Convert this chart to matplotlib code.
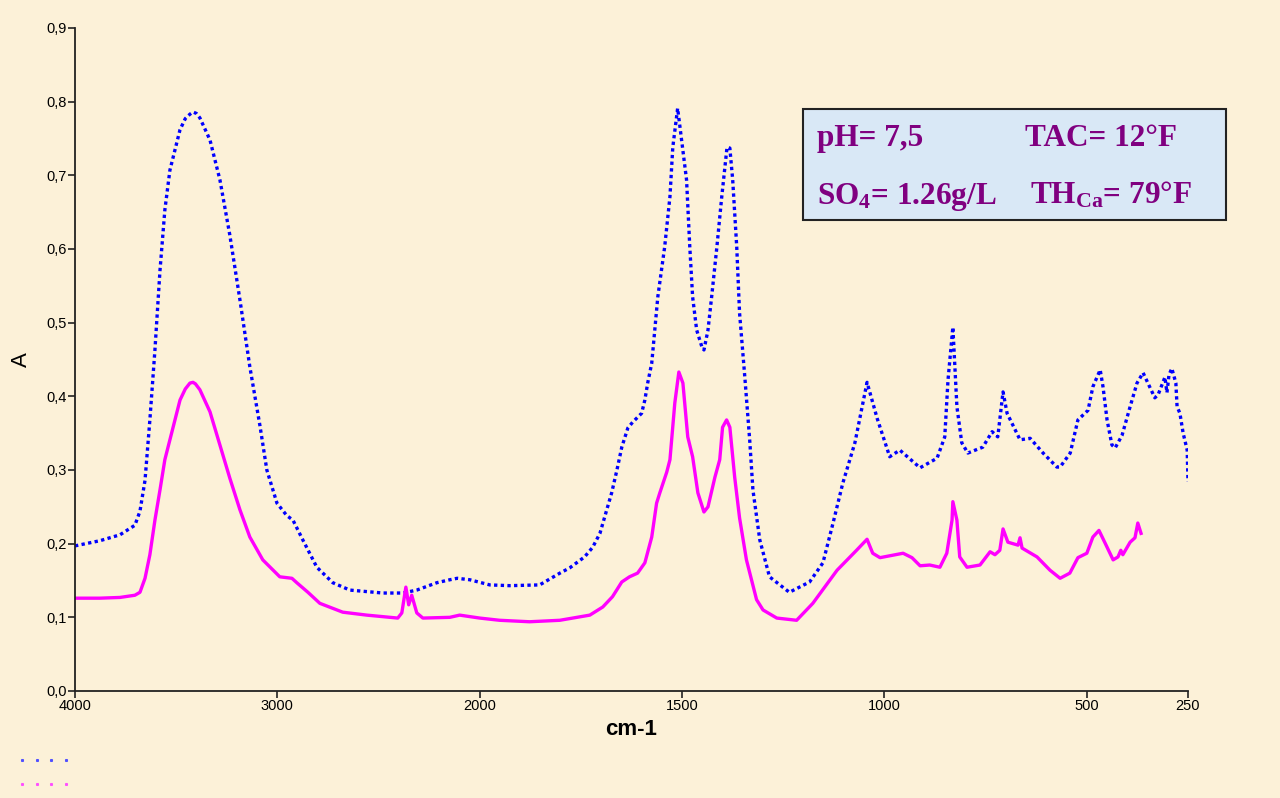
"""
IR absorbance spectrum of a scale deposit, two samples, with the
water analysis shown in a box. The wavenumber axis changes scale at
2000 cm-1 (half scale above 2000), like most FTIR print-outs.
"""

import numpy as np
import matplotlib.pyplot as plt
from matplotlib.lines import Line2D
from matplotlib.patches import Rectangle
import matplotlib.ticker as mticker

# ---------------------------------------------------------------------------
# Colours & style
# ---------------------------------------------------------------------------
PAPER_BG = "#fcf1d8"
BOX_BG = "#d9e8f6"
BLUE = "#0000ff"
MAGENTA = "#ff00ff"
PURPLE = "#800080"

plt.rcParams["font.family"] = ["Liberation Sans", "DejaVu Sans"]
plt.rcParams["mathtext.fontset"] = "custom"
plt.rcParams["mathtext.rm"] = "Liberation Serif:bold"
plt.rcParams["mathtext.it"] = "Liberation Serif:bold"
plt.rcParams["mathtext.bf"] = "Liberation Serif:bold"

# ---------------------------------------------------------------------------
# Data (wavenumber cm-1, absorbance)
# ---------------------------------------------------------------------------
blue_wn = [4000, 3877, 3778, 3704, 3679, 3654, 3630, 3605, 3580, 3556,
           3531, 3481, 3455, 3432, 3417, 3400, 3383, 3333, 3284, 3235,
           3185, 3136, 3086, 3052, 3002, 2953, 2923, 2874, 2805, 2726,
           2642, 2479, 2380, 2311, 2212, 2148, 2111, 2049, 1975, 1926,
           1852, 1802, 1778, 1741, 1721, 1703, 1686, 1674, 1661, 1649,
           1634, 1622, 1600, 1592, 1585, 1575, 1560, 1543, 1530, 1523,
           1511, 1489, 1481, 1474, 1464, 1451, 1446, 1436, 1427, 1414,
           1402, 1389, 1382, 1375, 1365, 1358, 1345, 1333, 1325, 1308,
           1284, 1235, 1185, 1152, 1127, 1103, 1073, 1043, 1018, 987,
           962, 912, 870, 851, 843, 831, 821, 809, 794, 757,
           734, 720, 707, 697, 665, 640, 608, 574, 566, 541,
           522, 497, 485, 467, 460, 450, 438, 430, 413, 393,
           376, 361, 349, 332, 324, 307, 302, 297, 290, 280,
           277, 270, 262, 252, 250]
blue_a = [0.197, 0.204, 0.212, 0.225, 0.244, 0.286, 0.368, 0.463, 0.571, 0.653,
          0.707, 0.762, 0.777, 0.783, 0.786, 0.784, 0.778, 0.748, 0.694, 0.619,
          0.531, 0.440, 0.360, 0.300, 0.255, 0.238, 0.232, 0.205, 0.168, 0.147,
          0.137, 0.133, 0.133, 0.137, 0.147, 0.151, 0.153, 0.151, 0.144, 0.143,
          0.144, 0.160, 0.167, 0.182, 0.195, 0.214, 0.246, 0.269, 0.300, 0.331,
          0.357, 0.365, 0.377, 0.395, 0.418, 0.445, 0.535, 0.603, 0.671, 0.738,
          0.791, 0.694, 0.603, 0.535, 0.490, 0.467, 0.463, 0.490, 0.535, 0.603,
          0.671, 0.738, 0.737, 0.694, 0.603, 0.513, 0.426, 0.341, 0.273, 0.205,
          0.155, 0.134, 0.148, 0.174, 0.228, 0.282, 0.337, 0.419, 0.370, 0.318,
          0.327, 0.303, 0.316, 0.345, 0.422, 0.494, 0.386, 0.337, 0.323, 0.331,
          0.352, 0.345, 0.406, 0.377, 0.341, 0.343, 0.323, 0.304, 0.304, 0.323,
          0.368, 0.381, 0.413, 0.436, 0.413, 0.368, 0.334, 0.330, 0.347, 0.386,
          0.418, 0.432, 0.418, 0.398, 0.402, 0.426, 0.405, 0.429, 0.438, 0.418,
          0.386, 0.377, 0.350, 0.327, 0.284]

magenta_wn = [4000, 3877, 3778, 3704, 3679, 3654, 3630, 3605, 3580, 3556,
              3531, 3481, 3455, 3432, 3417, 3405, 3383, 3333, 3284, 3235,
              3185, 3136, 3072, 2988, 2928, 2904, 2849, 2790, 2677, 2558,
              2405, 2385, 2365, 2351, 2336, 2311, 2281, 2148, 2099, 2000,
              1951, 1877, 1802, 1728, 1696, 1672, 1649, 1630, 1610, 1592,
              1575, 1563, 1555, 1538, 1530, 1518, 1508, 1498, 1486, 1474,
              1461, 1446, 1436, 1419, 1407, 1400, 1390, 1382, 1370, 1358,
              1341, 1316, 1300, 1266, 1217, 1177, 1117, 1069, 1043, 1029,
              1011, 954, 932, 912, 888, 863, 846, 833, 831, 821,
              814, 796, 764, 739, 727, 715, 707, 695, 670, 665,
              660, 623, 591, 566, 542, 522, 500, 485, 470, 455,
              435, 423, 416, 411, 393, 381, 374, 366]
magenta_a = [0.126, 0.126, 0.127, 0.130, 0.134, 0.153, 0.185, 0.232, 0.273, 0.314,
             0.341, 0.395, 0.410, 0.418, 0.419, 0.417, 0.409, 0.379, 0.334, 0.289,
             0.246, 0.209, 0.178, 0.155, 0.153, 0.147, 0.134, 0.119, 0.107, 0.103,
             0.099, 0.106, 0.141, 0.117, 0.130, 0.106, 0.099, 0.100, 0.103, 0.099,
             0.096, 0.094, 0.096, 0.103, 0.114, 0.128, 0.148, 0.155, 0.160, 0.174,
             0.209, 0.255, 0.269, 0.297, 0.314, 0.391, 0.433, 0.418, 0.345, 0.318,
             0.269, 0.243, 0.250, 0.290, 0.314, 0.358, 0.368, 0.358, 0.290, 0.235,
             0.178, 0.124, 0.110, 0.099, 0.096, 0.119, 0.164, 0.191, 0.206, 0.187,
             0.181, 0.187, 0.181, 0.170, 0.171, 0.168, 0.187, 0.232, 0.257, 0.232,
             0.182, 0.168, 0.171, 0.189, 0.185, 0.191, 0.220, 0.202, 0.198, 0.208,
             0.194, 0.182, 0.164, 0.153, 0.160, 0.181, 0.187, 0.209, 0.218, 0.201,
             0.178, 0.182, 0.191, 0.185, 0.202, 0.208, 0.228, 0.214]

x_ticks = [4000, 3000, 2000, 1500, 1000, 500, 250]
y_ticks = [0.0, 0.1, 0.2, 0.3, 0.4, 0.5, 0.6, 0.7, 0.8, 0.9]


def _fwd(x):
    x = np.asarray(x, dtype=float)
    return np.where(x > 2000, 2000 + (x - 2000) / 2, x)


def _inv(u):
    u = np.asarray(u, dtype=float)
    return np.where(u > 2000, 2000 + (u - 2000) * 2, u)


fig = plt.figure(figsize=(12.8, 7.98), dpi=100)
fig.patch.set_facecolor(PAPER_BG)
ax = fig.add_axes([75 / 1280, 1 - 691 / 798, (1188 - 75) / 1280, (691 - 28) / 798])
ax.set_facecolor("none")

ax.plot(blue_wn, blue_a, color=BLUE, linewidth=2.4, linestyle=(0, (1, 1)),
        dash_capstyle="butt")
ax.plot(magenta_wn, magenta_a, color=MAGENTA, linewidth=2.4)

ax.set_xscale("function", functions=(_fwd, _inv))
ax.set_xlim(4000, 250)
ax.set_ylim(0, 0.9)
ax.set_xticks(x_ticks)
ax.set_xticklabels([str(t) for t in x_ticks])
ax.xaxis.set_minor_locator(mticker.NullLocator())
ax.set_yticks(y_ticks)
ax.yaxis.set_major_formatter(mticker.FuncFormatter(lambda v, _: f"{v:.1f}".replace(".", ",")))

for side in ("top", "right"):
    ax.spines[side].set_visible(False)
for side in ("left", "bottom"):
    ax.spines[side].set_linewidth(1.3)
    ax.spines[side].set_color("#222222")
ax.tick_params(direction="out", length=5, width=1.2, labelsize=10.5, pad=1,
               colors="#222222", labelcolor="black")

ax.set_xlabel("cm-1", fontsize=16, fontweight="bold", labelpad=4)
ax.set_ylabel("A", fontsize=16, labelpad=10)

# water analysis box
fig.patches.append(Rectangle((803 / 1280, 1 - 220 / 798), 423 / 1280, 111 / 798,
                             transform=fig.transFigure, facecolor=BOX_BG,
                             edgecolor="#222222", linewidth=1.5, zorder=3))
box_txt = dict(color=PURPLE, fontsize=22.5, fontweight="bold", va="baseline",
               family=["Liberation Serif", "DejaVu Serif"], zorder=4)
fig.text(817 / 1280, 1 - 146 / 798, "pH= 7,5", **box_txt)
fig.text(1025 / 1280, 1 - 146 / 798, "TAC= 12°F", **box_txt)
fig.text(817 / 1280, 1 - 204 / 798, r"SO$_{4}$= 1.26g/L", **box_txt)
fig.text(1030 / 1280, 1 - 204 / 798, r"TH$_{\mathrm{Ca}}$= 79°F", **box_txt)

# faint legend samples in the lower-left corner
handles = [Line2D([], [], ls="none", marker="s", ms=1.2, color="#5050ff"),
           Line2D([], [], ls="none", marker="s", ms=1.2, color="#ff50ff")]
fig.legend(handles, ["", ""], numpoints=4, loc="upper left",
           bbox_to_anchor=(17 / 1280, 1 - 754 / 798), frameon=False,
           fontsize=12, handlelength=3.24, handletextpad=0, borderpad=0,
           borderaxespad=0, labelspacing=0.5)

fig.savefig("out.png", dpi=100, facecolor=PAPER_BG)
plt.close(fig)
